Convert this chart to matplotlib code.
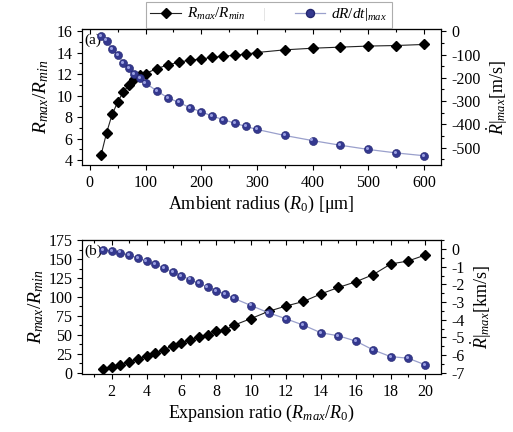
import numpy as np
import matplotlib
matplotlib.use('Agg')
import matplotlib.pyplot as plt
from matplotlib.lines import Line2D
from matplotlib.ticker import MultipleLocator
from matplotlib.transforms import offset_copy

plt.rcParams['font.family'] = 'Liberation Serif'
plt.rcParams['mathtext.fontset'] = 'custom'
plt.rcParams['mathtext.rm'] = 'Liberation Serif'
plt.rcParams['mathtext.it'] = 'Liberation Serif:italic'
plt.rcParams['axes.unicode_minus'] = False

# (a) ambient radius sweep
r0 = [20, 30, 40, 50, 60, 70, 80, 90, 100, 120, 140, 160, 180, 200, 220, 240,
      260, 280, 300, 350, 400, 450, 500, 550, 600]
ratio_a = [4.45, 6.55, 8.25, 9.4, 10.35, 10.95, 11.55, 11.9, 12.05, 12.5, 12.85,
           13.1, 13.3, 13.4, 13.55, 13.65, 13.75, 13.85, 14.0, 14.25, 14.4, 14.5,
           14.6, 14.65, 14.75]
vel_a = [-19, -40, -75, -103, -135, -159, -184, -200, -223, -256, -286, -306,
         -329, -346, -365, -380, -395, -409, -422, -448, -470, -490, -508, -523, -535]

# (b) expansion ratio sweep
exp_ratio = [1.5, 2, 2.5, 3, 3.5, 4, 4.5, 5, 5.5, 6, 6.5, 7, 7.5, 8, 8.5, 9,
             10, 11, 12, 13, 14, 15, 16, 17, 18, 19, 20]
ratio_b = [5, 7.2, 10.7, 14.5, 18, 22, 26, 30.5, 35, 39, 43, 46.5, 50, 54.5, 56,
           62.5, 71.5, 81, 88, 94, 104, 112.5, 120, 129.5, 143.5, 147.5, 155.5]
vel_b = [-0.05, -0.1, -0.2, -0.35, -0.5, -0.69, -0.87, -1.07, -1.3, -1.52, -1.73,
         -1.95, -2.14, -2.37, -2.53, -2.79, -3.2, -3.61, -3.95, -4.31, -4.74,
         -4.91, -5.21, -5.71, -6.09, -6.18, -6.56]

BLUE = '#34388f'
BLUE_HI = '#9a9fe0'
LINE_BLUE = '#9aa0cc'
DIAMOND_MS = 5.2
BALL_MS = 5.8

fig = plt.figure(figsize=(5.13, 4.32), dpi=100)
ax1 = fig.add_axes([0.160, 0.618, 0.700, 0.314])
ax2 = fig.add_axes([0.160, 0.134, 0.700, 0.310])


def draw_panel(ax, x, left, right, tag, xmajor, xminor):
    axr = ax.twinx()
    ax.plot(x, left, '-', color='#222222', lw=0.8, marker='D', ms=DIAMOND_MS,
            mfc='black', mec='black', zorder=3)
    axr.plot(x, right, '-', color=LINE_BLUE, lw=0.9, marker='o', ms=BALL_MS,
             mfc=BLUE, mec='#23266e', mew=0.4, zorder=3)
    # small highlight to give the markers a shaded look
    hi = offset_copy(axr.transData, fig=fig, x=-0.8, y=0.8, units='points')
    axr.plot(x, right, 'o', ls='none', ms=2.2, mfc=BLUE_HI, mec='none',
             transform=hi, zorder=4)
    ax.text(0.005, 0.97, tag, transform=ax.transAxes, ha='left', va='top',
            fontsize=11)
    for a in (ax, axr):
        a.tick_params(which='both', direction='out', labelsize=11.5, width=0.8)
        a.tick_params(which='major', length=3.5)
        a.tick_params(which='minor', length=2)
    ax.xaxis.set_major_locator(MultipleLocator(xmajor))
    ax.xaxis.set_minor_locator(MultipleLocator(xminor))
    # mirrored ticks on the top edge point inward
    top = ax.secondary_xaxis('top')
    top.xaxis.set_major_locator(MultipleLocator(xmajor))
    top.xaxis.set_minor_locator(MultipleLocator(xminor))
    top.tick_params(which='both', direction='in', labeltop=False, width=0.8)
    top.tick_params(which='major', length=3.5)
    top.tick_params(which='minor', length=2)
    for s in ax.spines.values():
        s.set_linewidth(0.8)
    return axr


axr1 = draw_panel(ax1, r0, ratio_a, vel_a, '(a)', 100, 50)
ax1.set_xlim(-14, 631)
ax1.set_ylim(3.55, 16.15)
axr1.set_ylim(-575, 8)
ax1.yaxis.set_major_locator(MultipleLocator(2))
ax1.yaxis.set_minor_locator(MultipleLocator(1))
axr1.yaxis.set_major_locator(MultipleLocator(100))
axr1.yaxis.set_minor_locator(MultipleLocator(50))
ax1.set_xlabel(r'Ambient radius ($R_0$) [$\mathrm{\mu}$m]', fontsize=13, labelpad=2)
ax1.set_ylabel(r'$R_{max}/R_{min}$', fontsize=14, labelpad=4)
axr1.set_ylabel(r'$\dot{R}|_{max}$[m/s]', fontsize=13, labelpad=3)

axr2 = draw_panel(ax2, exp_ratio, ratio_b, vel_b, '(b)', 2, 1)
ax2.set_xlim(0.3, 20.9)
ax2.set_ylim(-2, 175)
axr2.set_ylim(-7.08, 0.5)
ax2.yaxis.set_major_locator(MultipleLocator(25))
ax2.yaxis.set_minor_locator(MultipleLocator(12.5))
axr2.yaxis.set_major_locator(MultipleLocator(1))
axr2.yaxis.set_minor_locator(MultipleLocator(0.5))
ax2.set_xlabel(r'Expansion ratio ($R_{max}/R_0$)', fontsize=13, labelpad=2)
ax2.set_ylabel(r'$R_{max}/R_{min}$', fontsize=14, labelpad=2)
axr2.set_ylabel(r'$\dot{R}|_{max}$[km/s]', fontsize=13, labelpad=3)

handles = [
    Line2D([], [], color='#222222', lw=0.8, marker='D', ms=DIAMOND_MS,
           mfc='black', mec='black'),
    Line2D([], [], color=LINE_BLUE, lw=0.9, marker='o', ms=BALL_MS,
           mfc=BLUE, mec='#23266e'),
]
leg = fig.legend(handles, [r'$R_{max}/R_{min}$', r'$dR/dt|_{max}$'], ncol=2,
                 loc='upper center', bbox_to_anchor=(0.524, 1.0), fontsize=11,
                 frameon=True, fancybox=False, edgecolor='#999999',
                 handlelength=2.0, columnspacing=3.2, borderpad=0.3,
                 handletextpad=0.4, borderaxespad=0.1)
leg.get_frame().set_linewidth(0.8)
fig.canvas.draw()
bb = leg.get_window_extent().transformed(fig.transFigure.inverted())
fig.text(0.516, (bb.y0 + bb.y1) / 2, '|', ha='center', va='center',
         fontsize=11, color='#555555')

fig.savefig('out.png', dpi=100)
